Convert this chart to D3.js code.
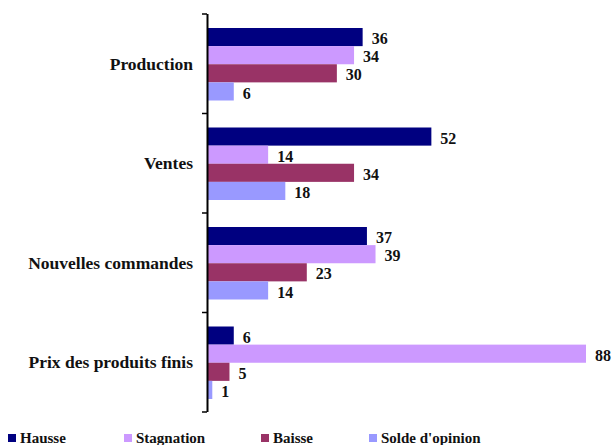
<!DOCTYPE html>
<html>
<head>
<meta charset="utf-8">
<script src="https://cdn.jsdelivr.net/npm/d3@7"></script>
<style>
  body { margin: 0; background: #fff; }
</style>
</head>
<body>
<svg id="chart" width="612" height="445"></svg>
<script>
const categories = ['Production', 'Ventes', 'Nouvelles commandes', 'Prix des produits finis']
const series = ['Hausse', 'Stagnation', 'Baisse', "Solde d'opinion"]
const hausse = [36, 52, 37, 6]
const stagnation = [34, 14, 39, 88]
const baisse = [30, 34, 23, 5]
const solde = [6, 18, 14, 1]
const colors = ['#000080', '#cc99ff', '#993366', '#9999ff']

const FONT = 'Liberation Serif'
const values = [hausse, stagnation, baisse, solde]
const svg = d3.select('#chart')

const xScale = d3.scaleLinear().domain([0, 88]).range([208, 586])

const yScale = d3.scaleBand()
  .domain(categories)
  .range([14, 412])

// bandas internas para cada serie, ~18px por barra
const inner = d3.scaleBand()
  .domain(series)
  .range([14, yScale.bandwidth() - 13])

const rows = categories.flatMap((c, i) =>
  series.map((s, j) => ({cat: c, serie: s, value: values[j][i], color: colors[j]}))
)

svg.append('g')
  .selectAll('rect')
  .data(rows)
  .join('rect')
  .attr('x', xScale(0))
  .attr('y', d => yScale(d.cat) + inner(d.serie))
  .attr('width', d => xScale(d.value) - xScale(0))
  .attr('height', inner.bandwidth())
  .attr('fill', d => d.color)

svg.append('g')
  .selectAll('text')
  .data(rows)
  .join('text')
  .attr('font-family', FONT)
  .attr('font-weight', 'bold')
  .attr('font-size', 16)
  .attr('fill', '#111')
  .attr('x', d => xScale(d.value) + 9)
  .attr('y', d => yScale(d.cat) + inner(d.serie) + inner.bandwidth() / 2 + 1.5)
  .attr('dy', '0.35em')
  .text(d => d.value)

// eje vertical con ticks en los limites de cada categoria
const edges = categories.map(c => yScale(c)).concat([yScale.range()[1]])
const axis = svg.append('g')
axis.append('line')
  .attr('x1', 207.5).attr('x2', 207.5)
  .attr('y1', 14).attr('y2', 412)
  .attr('stroke', '#000').attr('stroke-width', 2)
axis.selectAll('.tick')
  .data(edges)
  .join('line')
  .attr('x1', 202).attr('x2', 207)
  .attr('y1', d => d).attr('y2', d => d)
  .attr('stroke', '#000').attr('stroke-width', 1.5)

svg.append('g')
  .selectAll('text')
  .data(categories)
  .join('text')
  .attr('font-family', FONT)
  .attr('font-weight', 'bold')
  .attr('font-size', 17.5)
  .attr('text-anchor', 'end')
  .attr('fill', '#111')
  .attr('x', 193)
  .attr('y', d => yScale(d) + yScale.bandwidth() / 2)
  .attr('dy', '0.35em')
  .text(d => d)

const legendX = [8, 124, 261, 369]
const legend = svg.append('g')
  .selectAll('g')
  .data(series)
  .join('g')
  .attr('transform', (d, i) => `translate(${legendX[i]}, 434)`)
legend.append('rect')
  .attr('width', 8).attr('height', 8)
  .attr('fill', (d, i) => colors[i])
legend.append('text')
  .attr('font-family', FONT)
  .attr('font-weight', 'bold')
  .attr('font-size', 15)
  .attr('x', 12)
  .attr('y', 9)
  .attr('fill', '#111')
  .text(d => d)
</script>
</body>
</html>
